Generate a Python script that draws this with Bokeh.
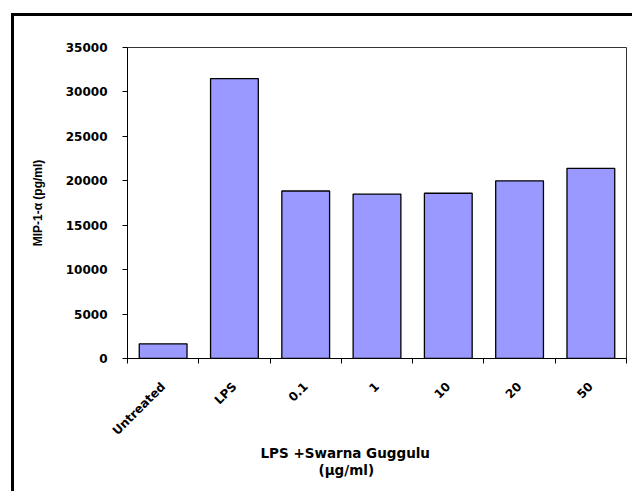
import math
import numpy as np
from bokeh.plotting import figure
from bokeh.models import Range1d, FixedTicker, Title, NumeralTickFormatter, ColumnDataSource
from bokeh.embed import file_html
from bokeh.resources import INLINE

categories = ["Untreated", "LPS", "0.1", "1", "10", "20", "50"]
values = [1650, 31500, 18850, 18500, 18600, 20000, 21400]
y_ticks = [0, 5000, 10000, 15000, 20000, 25000, 30000, 35000]
x_title_line1 = "LPS +Swarna Guggulu"
x_title_line2 = "(\u00b5g/ml)"
y_title = "MIP-1-\u03b1 (pg/ml)"

n = len(categories)
centers = list(np.arange(n) + 0.5)
bounds = list(np.arange(n + 1).astype(float))

src = ColumnDataSource(dict(x=centers, top=values, cat=categories))

p = figure(width=621, height=478, output_backend="svg", toolbar_location=None,
           x_range=Range1d(0, n), y_range=Range1d(0, 35000),
           min_border_left=113, min_border_right=9, min_border_top=31, min_border_bottom=136)
p.styles = {"margin-left": "11px", "margin-top": "13px",
            "border-left": "3px solid black", "border-top": "3px solid black"}

p.vbar(x="x", top="top", width=0.67, source=src, fill_color="#9999FF",
       line_color="black", line_width=1.3)

p.grid.visible = False
p.outline_line_color = "#333333"
p.outline_line_width = 1
p.background_fill_color = "white"
p.border_fill_color = "white"

# x axis: labels at centers, ticks at boundaries (minor ticks)
xa = p.xaxis[0]
xa.ticker = FixedTicker(ticks=centers, minor_ticks=bounds)
xa.major_label_overrides = {float(c): cat for c, cat in zip(centers, categories)}
xa.major_tick_out = 0
xa.major_tick_in = 0
xa.minor_tick_out = 5
xa.minor_tick_in = 0
xa.minor_tick_line_color = "black"
xa.axis_line_color = "black"
xa.major_label_orientation = math.pi / 4
xa.major_label_text_font = "DejaVu Sans"
xa.major_label_text_font_style = "bold"
xa.major_label_text_font_size = "12px"
xa.major_label_text_color = "black"
xa.major_label_standoff = 21

ya = p.yaxis[0]
ya.ticker = FixedTicker(ticks=y_ticks, minor_ticks=[])
ya.formatter = NumeralTickFormatter(format="0")
ya.major_tick_out = 5
ya.major_tick_in = 0
ya.major_tick_line_color = "black"
ya.minor_tick_line_color = None
ya.axis_line_color = "black"
ya.major_label_text_font = "DejaVu Sans"
ya.major_label_text_font_style = "bold"
ya.major_label_text_font_size = "12px"
ya.major_label_text_color = "black"
ya.major_label_standoff = 15
ya.axis_label = y_title
ya.axis_label_text_font = "Liberation Sans"
ya.axis_label_text_font_style = "bold"
ya.axis_label_text_font_size = "12px"
ya.axis_label_text_color = "black"
ya.axis_label_standoff = 18

for txt, off, so in [(x_title_line1, 133, -6), (x_title_line2, 191, 5)]:
    p.add_layout(Title(text=txt, align="left", offset=off, standoff=so,
                       text_font="DejaVu Sans", text_font_style="bold",
                       text_font_size="13.5px", text_color="black"), "below")

open("out.html", "w").write(file_html(p, INLINE))
